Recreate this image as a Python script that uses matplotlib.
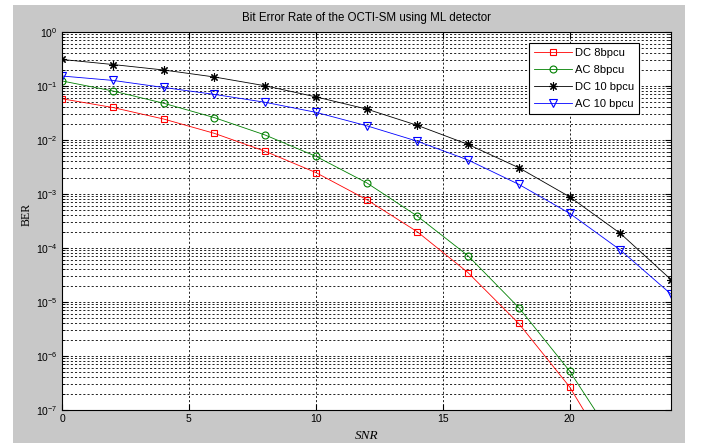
import matplotlib
matplotlib.use("Agg")
import matplotlib.pyplot as plt
from matplotlib.patches import Rectangle
from matplotlib.ticker import LogLocator, FixedLocator, NullFormatter

snr = [0, 2, 4, 6, 8, 10, 12, 14, 16, 18, 20, 22, 24]
dc_8 = [5.8e-2, 4.0e-2, 2.45e-2, 1.33e-2, 6.2e-3, 2.5e-3, 7.9e-4, 2.0e-4, 3.5e-5, 4.0e-6, 2.7e-7, 7.5e-9, 1e-10]
ac_8 = [1.24e-1, 8.1e-2, 4.8e-2, 2.6e-2, 1.24e-2, 5.0e-3, 1.62e-3, 3.9e-4, 7.2e-5, 7.9e-6, 5.3e-7, 1.9e-8, 3e-10]
dc_10 = [3.1e-1, 2.5e-1, 1.98e-1, 1.47e-1, 1.01e-1, 6.3e-2, 3.75e-2, 1.87e-2, 8.3e-3, 3.07e-3, 8.9e-4, 1.87e-4, 2.6e-5]
ac_10 = [1.53e-1, 1.27e-1, 9.4e-2, 7.0e-2, 5.0e-2, 3.26e-2, 1.84e-2, 9.5e-3, 4.27e-3, 1.51e-3, 4.4e-4, 9.2e-5, 1.4e-5]

labels = ["DC 8bpcu", "AC 8bpcu", "DC 10 bpcu", "AC 10 bpcu"]
title = "Bit Error Rate of the OCTI-SM using ML detector"

plt.rcParams['font.family'] = ['Liberation Sans', 'DejaVu Sans']
plt.rcParams['mathtext.fontset'] = 'custom'
plt.rcParams['mathtext.rm'] = 'Liberation Sans'
plt.rcParams['mathtext.it'] = 'Liberation Sans:italic'

fig = plt.figure(figsize=(7.04, 4.43), dpi=100, facecolor='white')
fig.patches.append(Rectangle((13 / 704, 0), (685 - 13) / 704, 1 - 5 / 443,
                             transform=fig.transFigure, facecolor='#c8c8c8',
                             edgecolor='none', zorder=-10))

ax = fig.add_axes([62 / 704, 1 - 410 / 443, (671 - 62) / 704, (410 - 32) / 443])
ax.set_facecolor('white')

asterisk = (8, 2, 0)
ax.semilogy(snr, dc_8, color='#ff0000', marker='s', mfc='none', ms=5, lw=0.6, mew=0.8, label=labels[0])
ax.semilogy(snr, ac_8, color='#008000', marker='o', mfc='none', ms=5, lw=0.6, mew=0.8, label=labels[1])
ax.semilogy(snr, dc_10, color='#000000', marker=asterisk, mfc='none', ms=6, lw=0.6, mew=0.8, label=labels[2])
ax.semilogy(snr, ac_10, color='#0000ff', marker='v', mfc='none', ms=5.5, lw=0.6, mew=0.8, label=labels[3])

ax.set_xlim(0, 24)
ax.set_ylim(1e-7, 1e0)
ax.xaxis.set_major_locator(FixedLocator([0, 5, 10, 15, 20]))
ax.yaxis.set_major_locator(LogLocator(base=10, numticks=10))
ax.yaxis.set_minor_locator(LogLocator(base=10, subs=range(2, 10), numticks=20))
ax.yaxis.set_minor_formatter(NullFormatter())

ax.grid(True, which='major', axis='both', color='#000000', linestyle=(0, (2.5, 2.5)), linewidth=0.6)
ax.grid(True, which='minor', axis='y', color='#000000', linestyle=(0, (2.5, 2.5)), linewidth=0.6)

ax.tick_params(axis='both', which='both', direction='in', labelsize=7.5, colors='#000000')
ax.tick_params(axis='both', which='major', length=4, pad=3)
ax.tick_params(axis='y', which='minor', length=2)
ax.tick_params(axis='x', which='minor', bottom=False, top=False)
ax.tick_params(right=True, top=True, which='major')
ax.tick_params(axis='y', right=True, which='minor')

for s in ax.spines.values():
    s.set_linewidth(0.8)
    s.set_color('#000000')

ax.set_title(title, fontsize=8.3, pad=8)
ax.set_xlabel('SNR', fontsize=9.5, family='Liberation Serif', style='italic', labelpad=4)
ax.set_ylabel('BER', fontsize=8.5, family='Liberation Serif')
ax.yaxis.set_label_coords(-0.0476, 0.518)

leg = ax.legend(loc='upper right', bbox_to_anchor=(0.9475, 0.971), fontsize=8, frameon=True,
                fancybox=False, edgecolor='#000000', framealpha=1, handlelength=3.4,
                borderpad=0.45, labelspacing=0.64, handletextpad=0.25, borderaxespad=0)
leg.get_frame().set_linewidth(0.8)

fig.savefig('out.png', dpi=100, facecolor=fig.get_facecolor())
